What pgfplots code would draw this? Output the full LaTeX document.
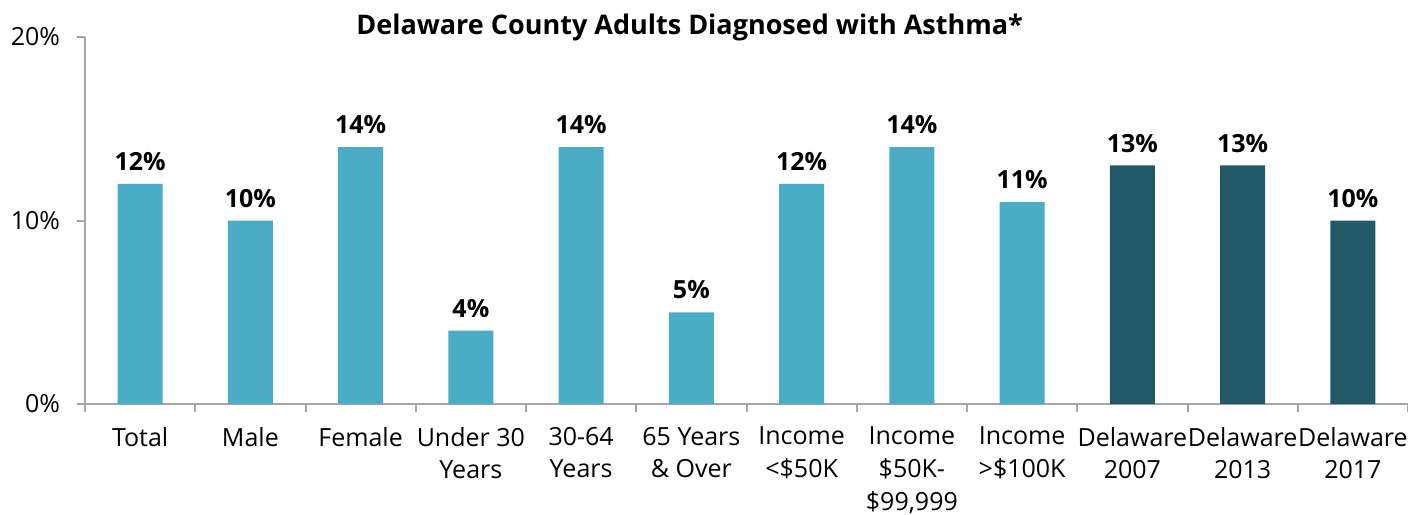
\documentclass[border=0pt]{standalone}
\usepackage{pgfplots}
\pgfplotsset{compat=1.18}
\usepackage{fontspec}
\setmainfont{Open Sans}
\definecolor{lightteal}{HTML}{4BACC6}
\definecolor{darkteal}{HTML}{215968}
\definecolor{axgray}{HTML}{A6A6A6}
\begin{document}
\begin{tikzpicture}
\begin{axis}[
  scale only axis,
  width=661.5pt, height=183.5pt,
  xmin=-0.5, xmax=11.5, ymin=0, ymax=20,
  ybar, bar width=22.5pt, bar shift=0pt,
  axis x line*=bottom, axis y line*=left,
  axis line style={axgray, line width=1pt},
  every tick/.style={axgray, line width=1pt},
  tick align=outside,
  major tick length=4pt,
  xtick={-0.5,0.5,...,11.5},
  x tick label as interval=true,
  xticklabels={Total,Male,Female,Under 30\\Years,30-64\\Years,65 Years\\\& Over,Income\\<\$50K,Income\\\$50K-\\\$99{,}999,Income\\>\$100K,Delaware\\2007,Delaware\\2013,Delaware\\2017},
  xticklabel style={align=center, font=\fontsize{12.5}{16.3}\selectfont, yshift=-4pt},
  ytick={0,10,20},
  yticklabel={\pgfmathprintnumber{\tick}\%},
  yticklabel style={font=\fontsize{12.5}{14}\selectfont, xshift=-5pt},
  /pgf/number format/assume math mode=true,
  nodes near coords={\pgfmathprintnumber{\pgfplotspointmeta}\%},
  nodes near coords style={font=\bfseries\fontsize{12.5}{14}\selectfont, black, yshift=3pt},
  every axis title shift=0pt,
  title={Delaware County Adults Diagnosed with Asthma*},
  title style={font=\bfseries\fontsize{13.5}{15}\selectfont, at={(0.457,1.025)}, anchor=center},
  clip=false,
]
\addplot[fill=lightteal, draw=none] coordinates {(0,12) (1,10) (2,14) (3,4) (4,14) (5,5) (6,12) (7,14) (8,11)};
\addplot[fill=darkteal, draw=none] coordinates {(9,13) (10,13) (11,10)};
\coordinate (SW) at (rel axis cs:0,0);
\coordinate (NE) at (rel axis cs:1,1);
\end{axis}
\pgfresetboundingbox
\path[use as bounding box] ([shift={(-42.5pt,-55pt)}]SW) rectangle ([shift={(0pt,18.5pt)}]NE);
\end{tikzpicture}
\end{document}
